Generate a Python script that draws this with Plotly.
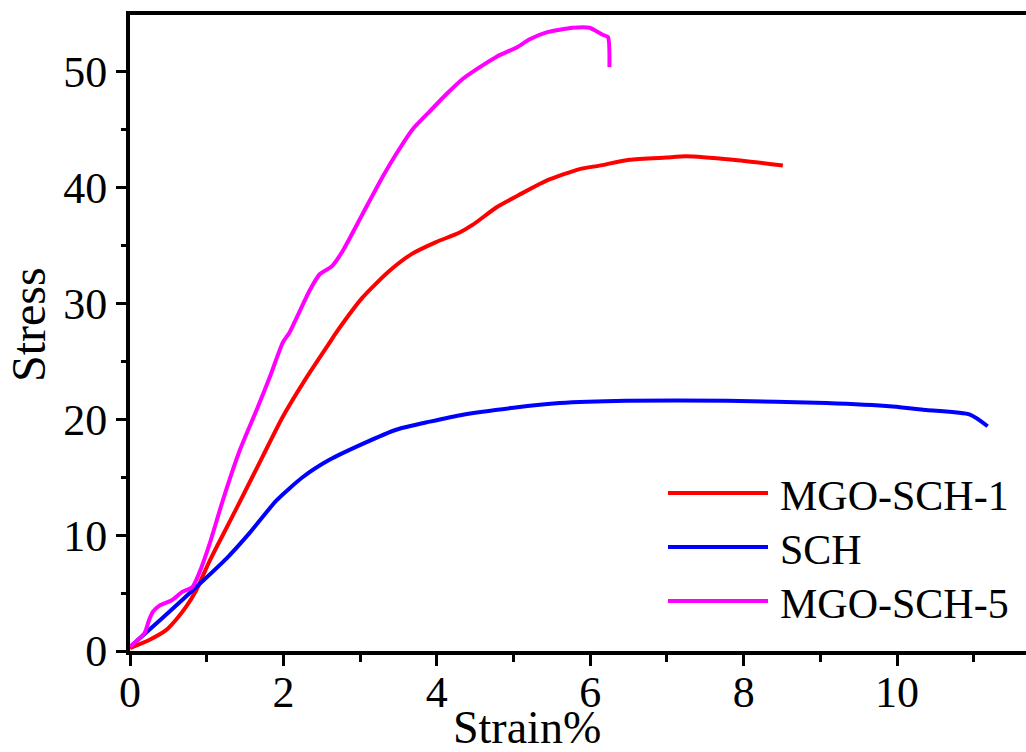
import plotly.graph_objects as go

# ---------------- data ----------------
names = ["MGO-SCH-1", "SCH", "MGO-SCH-5"]
colors = ["#ff0000", "#0000ff", "#ff00ff"]

mgo1_x = [0.0, 0.25, 0.47, 0.60, 0.73, 0.86, 1.04, 1.38, 1.73, 1.99, 2.30, 2.60, 2.69,
          3.03, 3.38, 3.68, 3.99, 4.29, 4.47, 4.78, 5.08, 5.43, 5.86, 6.12, 6.51, 6.99,
          7.25, 7.86, 8.51]
mgo1_y = [0.25, 0.95, 1.8, 2.7, 3.8, 5.2, 7.8, 12.2, 16.8, 20.2, 23.6, 26.6, 27.5,
          30.5, 32.8, 34.3, 35.3, 36.1, 36.8, 38.3, 39.4, 40.6, 41.6, 41.9, 42.4, 42.6,
          42.7, 42.4, 41.9]

sch_x = [0.0, 0.43, 0.86, 1.26, 1.56, 1.91, 2.25, 2.60, 3.04, 3.47, 3.91, 4.34, 5.00,
         5.60, 6.47, 7.78, 9.08, 9.94, 10.38, 10.95, 11.18]
sch_y = [0.35, 2.9, 5.5, 8.0, 10.2, 13.0, 15.0, 16.5, 17.9, 19.1, 19.8, 20.4, 21.0,
         21.4, 21.6, 21.6, 21.4, 21.1, 20.8, 20.4, 19.4]

mgo5_x = [0.0, 0.19, 0.25, 0.30, 0.38, 0.55, 0.68, 0.81, 0.90, 1.04, 1.21, 1.43, 1.65,
          1.82, 1.99, 2.08, 2.34, 2.47, 2.63, 2.77, 3.03, 3.29, 3.47, 3.68, 3.91, 4.13,
          4.34, 4.56, 4.78, 5.04, 5.21, 5.43, 5.77, 5.99, 6.16, 6.23, 6.25]
mgo5_y = [0.35, 1.55, 2.7, 3.4, 3.9, 4.4, 5.1, 5.5, 6.7, 9.3, 13.0, 17.3, 20.8,
          23.6, 26.6, 27.5, 31.1, 32.5, 33.2, 34.5, 37.7, 40.9, 42.9, 45.0, 46.6, 48.1,
          49.4, 50.4, 51.3, 52.1, 52.8, 53.4, 53.8, 53.8, 53.2, 53.0, 50.4]

series_x = [mgo1_x, sch_x, mgo5_x]
series_y = [mgo1_y, sch_y, mgo5_y]

x_ticks = [0, 2, 4, 6, 8, 10]
y_ticks = [0, 10, 20, 30, 40, 50]
x_title = "Strain%"
y_title = "Stress"

FONT = "Times New Roman, Liberation Serif, Tinos, serif"

fig = go.Figure()
for n, c, xs, ys in zip(names, colors, series_x, series_y):
    fig.add_trace(go.Scatter(x=xs, y=ys, mode="lines", name=n,
                             line=dict(color=c, width=4, shape="spline", smoothing=0.6),
                             showlegend=False))

# manual legend (long line samples as in the reference)
leg_rows = [493, 547, 601]
for n, c, py in zip(names, colors, leg_rows):
    yp = (651 - py) / 636
    fig.add_shape(type="line", xref="paper", yref="paper",
                  x0=(668 - 130) / 896, x1=(768 - 130) / 896, y0=yp, y1=yp,
                  line=dict(color=c, width=4))
    fig.add_annotation(xref="paper", yref="paper", x=(778 - 130) / 896, y=(651 - py - 3) / 636,
                       xanchor="left", yanchor="middle", text=n, showarrow=False,
                       font=dict(family=FONT, size=42, color="black"))

fig.add_annotation(xref="paper", yref="paper", x=(527 - 130) / 896, y=(651 - 727) / 636,
                   xanchor="center", yanchor="middle", text=x_title, showarrow=False,
                   font=dict(family=FONT, size=46, color="black"))
fig.add_annotation(xref="paper", yref="paper", x=(28 - 130) / 896, y=(651 - 325) / 636,
                   xanchor="center", yanchor="middle", text=y_title, showarrow=False,
                   textangle=-90, font=dict(family=FONT, size=48, color="black"))

fig.update_layout(
    width=1026, height=752,
    margin=dict(l=130, r=0, t=15, b=101, autoexpand=False),
    paper_bgcolor="white", plot_bgcolor="white",
    font=dict(family=FONT, size=44, color="black"),
    xaxis=dict(range=[0, 11.68], tickvals=x_ticks, ticktext=[str(v) for v in x_ticks],
               automargin=False, ticklabelstandoff=-12,
               showgrid=False, zeroline=False, showline=True, linecolor="black",
               linewidth=4, mirror=True, ticks="outside", ticklen=11, tickwidth=3,
               tickcolor="black", tickfont=dict(family=FONT, size=44),
               minor=dict(tickvals=[1, 3, 5, 7, 9, 11], ticks="outside", ticklen=7,
                          tickwidth=3, tickcolor="black", showgrid=False)),
    yaxis=dict(range=[0, 54.9], tickvals=y_ticks, ticktext=[str(v) for v in y_ticks],
               automargin=False,
               showgrid=False, zeroline=False, showline=True, linecolor="black",
               linewidth=4, mirror=False, ticks="outside", ticklen=10, tickwidth=3,
               tickcolor="black", tickfont=dict(family=FONT, size=44),
               minor=dict(tickvals=[5, 15, 25, 35, 45], ticks="outside", ticklen=5,
                          tickwidth=3, tickcolor="black", showgrid=False)),
)

fig.write_html("out.html", config={"displayModeBar": False},
               post_script="document.body.style.margin='0';document.body.style.padding='0';")
